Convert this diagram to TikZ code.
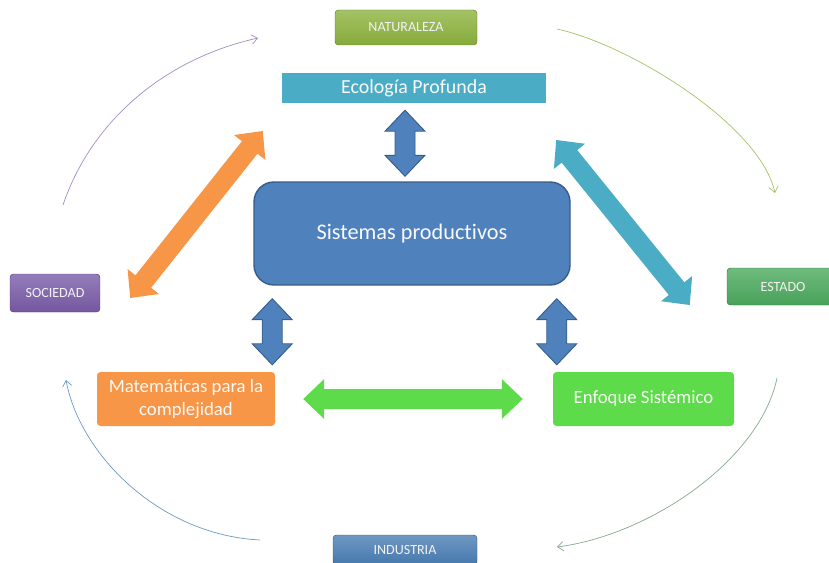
\documentclass[tikz,border=0pt]{standalone}
\usepackage{fontspec}
\setmainfont{Carlito}[Ligatures={NoCommon}]
\usepackage{xcolor}
\usetikzlibrary{calc, arrows.meta}

\definecolor{natgreen}{HTML}{8DB33E}
\definecolor{socpurple}{HTML}{7A5CA8}
\definecolor{estgreen}{HTML}{4BAA5E}
\definecolor{indblue}{HTML}{4A7EB5}
\definecolor{ecoaqua}{HTML}{4BACC6}
\definecolor{sisblue}{HTML}{4F81BD}
\definecolor{sisedge}{HTML}{385D8A}
\definecolor{matorange}{HTML}{F79646}
\definecolor{enfgreen}{HTML}{5EDB4A}

% one unit = one pixel
\def\pxu{0.03cm}
\def\hlen{0.63cm}
\def\hwid{0.6cm}
\def\swid{0.3cm}

% thick double arrow between two points
\newcommand\fatarrow[3]{%
	\coordinate (fa1) at (#2);
	\coordinate (fa2) at (#3);
	\coordinate (fa3) at ($(fa1)!\hlen!(fa2)$);
	\coordinate (fa4) at ($(fa2)!\hlen!(fa1)$);
	\path[#1] (fa1) -- ($(fa3)!\hwid!-90:(fa2)$) -- ($(fa3)!\swid!-90:(fa2)$)
		-- ($(fa4)!\swid!90:(fa1)$) -- ($(fa4)!\hwid!90:(fa1)$) -- (fa2)
		-- ($(fa4)!\hwid!-90:(fa1)$) -- ($(fa4)!\swid!-90:(fa1)$)
		-- ($(fa3)!\swid!90:(fa2)$) -- ($(fa3)!\hwid!90:(fa2)$) -- cycle;
}

\tikzset{
	btn/.style={rounded corners=3pt, draw=#1!70!black, top color=#1!80!white, bottom color=#1!95!black,
		text=white!90!gray, font=\fontsize{12}{14}\selectfont, minimum height=35*\pxu},
	box/.style={fill=#1, text=white!95!gray, align=center},
	thin arrow/.style={draw=#1, line width=0.6pt, -{Straight Barb[length=5pt, width=8pt]}},
}

\begin{document}
\begin{tikzpicture}[x=0.03cm, y=-0.03cm]
	\useasboundingbox (0,0) rectangle (829,563);

	% outer ring of labels
	\node[btn=natgreen, minimum width=142*\pxu] (nat) at (406,27.5) {NATURALEZA};
	\node[btn=socpurple, minimum width=90*\pxu, minimum height=38*\pxu] (soc) at (55,293) {SOCIEDAD};
	\node[btn=estgreen, minimum width=112*\pxu, minimum height=37*\pxu] (est) at (783,286.5) {ESTADO};
	\node[btn=indblue, minimum width=144*\pxu, minimum height=30*\pxu] (ind) at (405,550) {INDUSTRIA};

	% inner boxes
	\node[box=ecoaqua, minimum width=264*\pxu, minimum height=30*\pxu, font=\fontsize{17}{20}\selectfont] (eco) at (414,88) {Ecología Profunda};
	\node[box=sisblue, draw=sisedge, line width=1.2pt, rounded corners=0.6cm, minimum width=316*\pxu, minimum height=103*\pxu,
		font=\fontsize{19}{22}\selectfont] (sis) at (412,233.5) {Sistemas productivos};
	\node[box=matorange, rounded corners=3pt, minimum width=178*\pxu, minimum height=54*\pxu,
		font=\fontsize{16}{19.5}\selectfont] (mat) at (186,399) {Matemáticas para la\\complejidad};
	\node[box=enfgreen, rounded corners=3pt, minimum width=181*\pxu, minimum height=54*\pxu,
		font=\fontsize{16}{19.5}\selectfont] (enf) at (643.5,399) {Enfoque Sistémico};

	% thick arrows
	\fatarrow{fill=sisblue, draw=sisedge, line width=0.8pt}{$(eco.south)+(-9,7)$}{$(sis.north)+(-7,-5)$}
	\fatarrow{fill=sisblue, draw=sisedge, line width=0.8pt}{$(mat.north east |- sis.south)+(-3,13)$}{$(mat.north east)+(-3,-7)$}
	\fatarrow{fill=sisblue, draw=sisedge, line width=0.8pt}{$(enf.north west |- sis.south)+(4,13)$}{$(enf.north west)+(4,-7)$}
	\fatarrow{fill=enfgreen}{$(mat.east)+(28,0)$}{$(enf.west)+(-30,0)$}
	\fatarrow{fill=matorange}{$(soc.east)+(30,5)$}{$(eco.west)+(-19,43)$}
	\fatarrow{fill=ecoaqua}{$(eco.east)+(10,52)$}{$(est.west)+(-37,18.5)$}

	% thin curved arrows round the ring
	\coordinate (c1) at (63,205);
	\coordinate (c2) at (258,38);
	\coordinate (c3) at (557,29);
	\coordinate (c4) at (775,193);
	\coordinate (c5) at (777,378);
	\coordinate (c6) at (557,547);
	\coordinate (c7) at (260,540);
	\coordinate (c8) at (66,380);
	\draw[thin arrow=socpurple!70!white] (c1) .. controls (90,125) and (160,60) .. (c2);
	\draw[thin arrow=natgreen!80!white] (c3) .. controls (630,45) and (760,125) .. (c4);
	\draw[thin arrow=estgreen!50!gray!80!white] (c5) .. controls (760,460) and (650,535) .. (c6);
	\draw[thin arrow=indblue!80!white] (c7) .. controls (160,535) and (80,455) .. (c8);
\end{tikzpicture}
\end{document}
